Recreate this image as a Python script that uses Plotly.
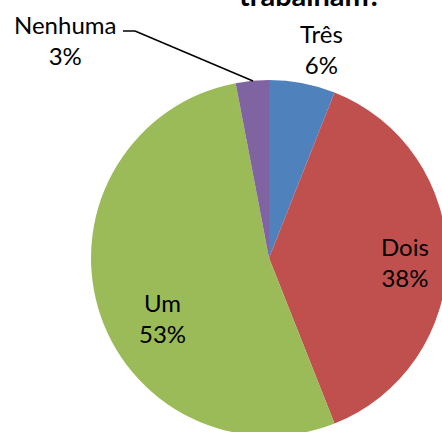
import plotly.graph_objects as go

# Quantas pessoas trabalham? — share of answers
categorias = ["Três", "Dois", "Um", "Nenhuma"]
percentuais = [6, 38, 53, 3]
cores = ["#4F81BD", "#C0504D", "#9BBB59", "#8064A2"]

# canvas runs slightly past the visible frame so the pie is clipped at right/bottom
W, H = 449, 440
FONT = "Lato, 'Liberation Sans', sans-serif"


def paper(x, y):
    """Pixel position (from top-left) to paper coordinates."""
    return x / W, 1 - y / H


fig = go.Figure(
    go.Pie(
        labels=categorias,
        values=percentuais,
        sort=False,
        direction="clockwise",
        rotation=0,
        marker=dict(colors=cores, line=dict(width=0)),
        textinfo="none",
        hoverinfo="label+percent",
        domain=dict(x=[91 / W, 447 / W], y=[1 - 436 / H, 1 - 80 / H]),
        showlegend=False,
    )
)

# data labels: category name over its percentage
label_pos = {
    "Três": (321, 49),
    "Dois": (405, 262),
    "Um": (162, 318),
    "Nenhuma": (65, 40),
}
for cat, val in zip(categorias, percentuais):
    px, py = label_pos[cat]
    x, y = paper(px, py)
    fig.add_annotation(
        x=x, y=y, xref="paper", yref="paper",
        text=f"{cat}<br>{val}%",
        showarrow=False, xanchor="center", yanchor="middle",
        font=dict(family=FONT, size=24, color="#000000"),
    )

# leader line for the thin "Nenhuma" slice
pts = [(123, 31), (135, 31), (253, 81)]
for (x0, y0), (x1, y1) in zip(pts[:-1], pts[1:]):
    a0, b0 = paper(x0, y0)
    a1, b1 = paper(x1, y1)
    fig.add_shape(
        type="line", xref="paper", yref="paper",
        x0=a0, y0=b0, x1=a1, y1=b1,
        line=dict(color="#000000", width=1.5),
    )

# chart title (runs off the top edge)
tx, ty = paper(310, -5)
fig.add_annotation(
    x=tx, y=ty, xref="paper", yref="paper",
    text="<b>trabalham?</b>", showarrow=False,
    xanchor="center", yanchor="middle",
    font=dict(family=FONT, size=29, color="#000000"),
)

fig.update_layout(
    width=W, height=H,
    margin=dict(l=0, r=0, t=0, b=0),
    paper_bgcolor="white",
    plot_bgcolor="white",
)

fig.write_html("out.html")
